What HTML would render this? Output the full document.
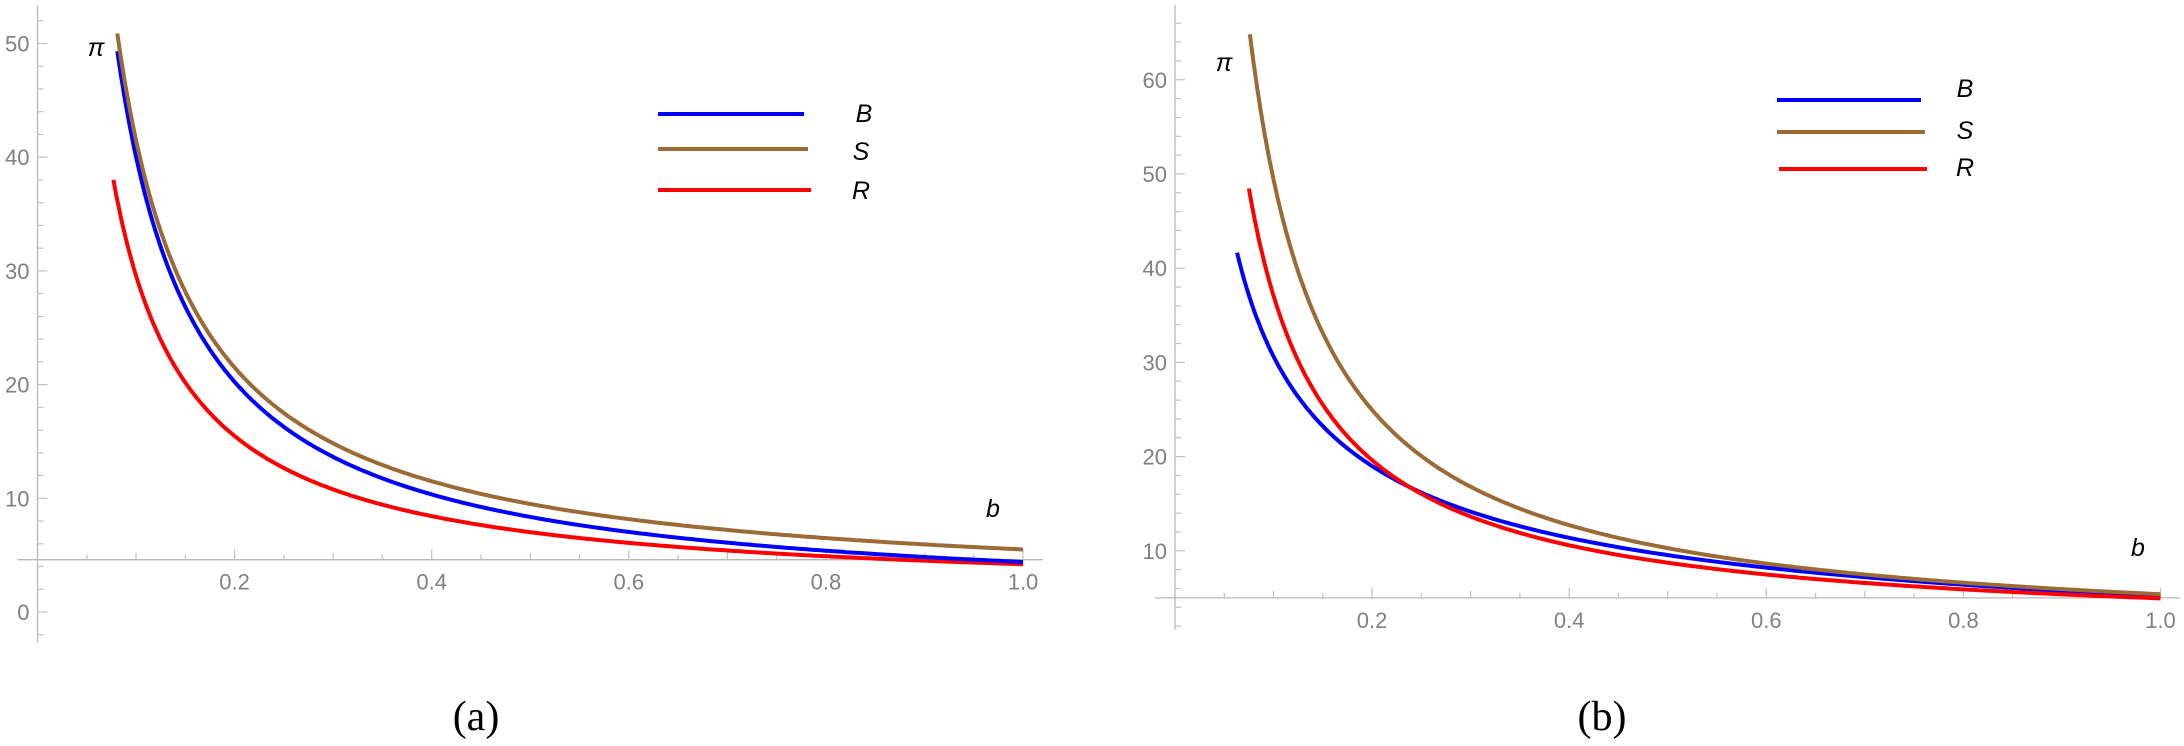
<!DOCTYPE html>
<html><head><meta charset="utf-8"><style>
html,body{margin:0;padding:0;background:#fff;}
svg{display:block}
.t{font-family:"Liberation Sans",sans-serif;font-size:22px;fill:#808080}
.i{font-family:"Liberation Sans",sans-serif;font-style:italic;font-size:25px;fill:#000}
.c{font-family:"Liberation Serif",serif;font-size:42px;fill:#000}
</style></head><body>
<svg id="s" width="2184" height="746" viewBox="0 0 2184 746" xmlns="http://www.w3.org/2000/svg">
<text class="c" x="476" y="730" text-anchor="middle">(a)</text>
<text class="c" x="1602" y="730" text-anchor="middle">(b)</text>
</svg>
<script>
var s=document.getElementById('s'),NS='http://www.w3.org/2000/svg';
function el(t,a,txt){var e=document.createElementNS(NS,t);for(var k in a)e.setAttribute(k,a[k]);if(txt!=null)e.textContent=txt;s.appendChild(e);return e;}
function chart(o){
 var X=function(b){return o.x0+b*985.5;},Y=function(v){return o.y0-v*o.py;};
 var ay=Y(o.axv);
 el('line',{x1:o.x0,y1:o.ytop,x2:o.x0,y2:o.ybot,stroke:'#b8b8b8','stroke-width':1.3});
 el('line',{x1:o.x0-20,y1:ay,x2:X(1)+20,y2:ay,stroke:'#b8b8b8','stroke-width':1.3});
 for(var v=o.vmin;v<=o.vmax;v+=2){var y=Y(v);if(y<o.ytop||y>o.ybot)continue;var maj=v%10==0;
  el('line',{x1:o.x0,y1:y,x2:o.x0+(maj?10:6),y2:y,stroke:'#c0c0c0','stroke-width':1.2});
  if(maj&&v>=o.lmin)el('text',{class:'t',x:o.x0-8,y:y+8,'text-anchor':'end'},String(v));}
 for(var i=1;i<=20;i++){var x=X(i*0.05),h=(i%4==0)?10:(i%2==0?7:5);
  el('line',{x1:x,y1:ay,x2:x,y2:ay-h,stroke:'#c0c0c0','stroke-width':1.2});
  if(i%4==0)el('text',{class:'t',x:x,y:ay+30,'text-anchor':'middle'},(i*0.05).toFixed(1));}
 o.series.forEach(function(sr){var d='';for(var k=0;k<=300;k++){var b=sr.b0+(1-sr.b0)*Math.pow(k/300,1.6);d+=(k?'L':'M')+X(b).toFixed(1)+','+Y(sr.f(b)).toFixed(1);}
  el('path',{d:d,fill:'none',stroke:sr.c,'stroke-width':4});});
 o.leg.forEach(function(l){el('line',{x1:l[0],y1:l[2],x2:l[1],y2:l[2],stroke:l[3],'stroke-width':4});
  el('text',{class:'i',x:l[4],y:l[5]+9,'text-anchor':'middle'},l[6]);});
 el('text',{class:'i',x:o.pi[0],y:o.pi[1]+8,'text-anchor':'middle'},'π');
 el('text',{class:'i',x:o.bl[0],y:o.bl[1]+9,'text-anchor':'middle'},'b');
}
chart({x0:37.5,y0:612,py:11.37,axv:4.6,ytop:5,ybot:643,vmin:-2,vmax:52,lmin:0,
 series:[{c:'#ff0000',b0:0.077,f:function(b){return 2.82/b+1.38}},
  {c:'#0000ff',b0:0.081,f:function(b){return 3.96/b+0.44}},
  {c:'#9b6a35',b0:0.081,f:function(b){return 4.0/b+1.5}}],
 leg:[[658,804,114,'#0000ff',864,113,'B'],[658,808,149,'#9b6a35',861,151,'S'],[658,811,190,'#ff0000',861,190,'R']],
 pi:[96,48],bl:[993,508]});
chart({x0:1175,y0:645,py:9.42,axv:5.0,ytop:5,ybot:630,vmin:2,vmax:68,lmin:10,
 series:[{c:'#0000ff',b0:0.063,f:function(b){return 8.2*Math.pow(b,-0.613)-3}},
  {c:'#ff0000',b0:0.075,f:function(b){return 4.06*Math.pow(b,-0.95)+0.89}},
  {c:'#9b6a35',b0:0.076,f:function(b){return 4.89/b+0.5}}],
 leg:[[1777,1921,100,'#0000ff',1965,88,'B'],[1777,1925,132,'#9b6a35',1965,130,'S'],[1779,1927,169,'#ff0000',1965,167,'R']],
 pi:[1224,63],bl:[2138,547]});
</script>
</body></html>
